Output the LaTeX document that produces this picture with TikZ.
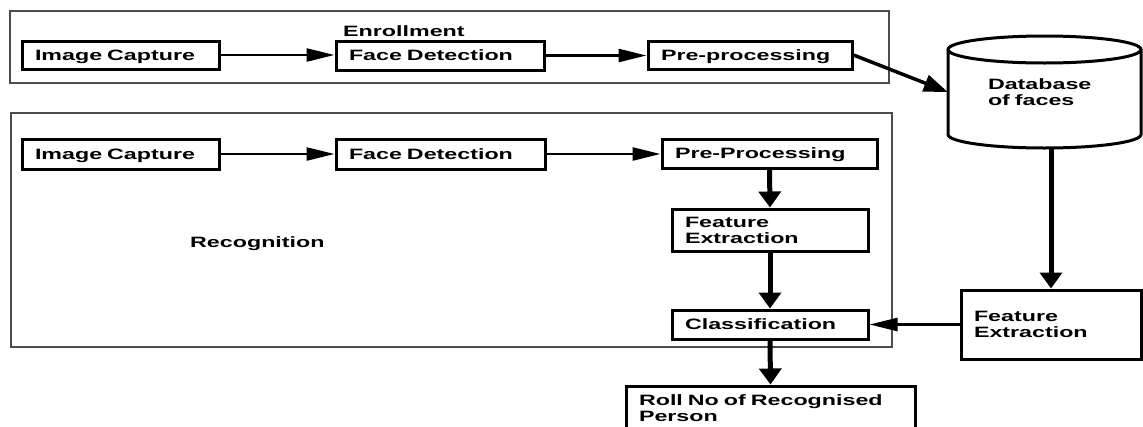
\documentclass[tikz,border=0pt]{standalone}
\usepackage{fontspec}
\newfontfamily\lbl[FakeStretch=1.55]{Liberation Sans}
\usetikzlibrary{arrows.meta,calc}
\begin{document}
\begin{tikzpicture}[x=1pt,y=-1pt,
  every node/.style={font=\lbl\bfseries\fontsize{15}{16}\selectfont},
  box/.style={draw, line width=3pt, inner xsep=13pt, inner ysep=0pt, align=left},
  oneline/.style={text depth=0pt},
  twoline/.style={text depth=16pt},
  frame/.style={draw=black!70, line width=2pt},
  hconn/.style={line width=2.5pt, -{Triangle[length=28pt,width=13pt]}},
  dconn/.style={line width=3.5pt, -{Triangle[length=24pt,width=17pt]}},
  vconn/.style={line width=5pt, -{Triangle[length=16pt,width=22pt]}},
  cyl/.style={draw, line width=3pt}
]
\useasboundingbox[fill=white] (0,0) rectangle (1143,426);

% outer frames
\draw[frame] (9.5,10.5) rectangle (889,83);
\draw[frame] (11,113) rectangle (892,347);

\node[anchor=base west, inner sep=0pt] (enrlabel) at (343,36) {Enrollment};
\node[anchor=base west, inner sep=0pt] (reclabel) at (190,247.5) {Recognition};

% enrollment row
\node[box, oneline, text width=171pt, minimum height=28pt] (ic1) at (120.5,55) {Image Capture};
\node[box, oneline, text width=182pt, minimum height=29pt] (fd1) at (440,55.5) {Face Detection};
\node[box, oneline, text width=178pt, minimum height=28pt] (pp1) at (750,55) {Pre-processing};

% recognition row
\node[box, oneline, text width=171pt, minimum height=30pt] (ic2) at (120.5,154) {Image Capture};
\node[box, oneline, text width=183pt, minimum height=30pt] (fd2) at (440.5,154) {Face Detection};
\node[box, oneline, text width=189pt, minimum height=29pt] (pp2) at (769.5,153.5) {Pre-Processing};
\node[box, twoline, text width=170pt, minimum height=42pt] (fe2) at (770,230) {Feature\\Extraction};
\node[box, oneline, text width=170pt, minimum height=29pt] (cl) at (770,324.5) {Classification};
\node[box, twoline, text width=263pt, minimum height=45pt] (roll) at (770.5,408.5) {Roll No of Recognised\\Person};
\node[box, twoline, text width=154pt, minimum height=69pt] (fe3) at (1051,324.5) {Feature\\Extraction};

% database cylinder
\node[inner sep=0pt, twoline, minimum width=193pt, minimum height=112pt, text width=113pt, align=left] (db) at (1044.5,92) {Database\\of faces};
\draw[cyl] (1044.5,49.5) ellipse [x radius=96.5pt, y radius=13.5pt];
\draw[cyl] (948,49.5) -- (948,134.5)
  arc [start angle=180, end angle=360, x radius=96.5pt, y radius=13.5pt]
  -- (1141,49.5);

% connectors
\draw[hconn] (ic1.east) -- (ic1.east -| fd1.west);
\draw[hconn] (fd1.east) -- (fd1.east -| pp1.west);
\draw[hconn] (ic2.east) -- (ic2.east -| fd2.west);
\draw[hconn] (fd2.east) -- (fd2.east -| pp2.west);
\draw[dconn] (pp1.east) -- (db.west);
\draw[vconn] (pp2.south) -- (fe2.north);
\draw[vconn] (fe2.south) -- (cl.north);
\draw[vconn] (cl.south) -- (roll.north);
\draw[vconn] (db.south -| fe3.north) -- (fe3.north);
\draw[hconn] (fe3.west) -- (cl.east);
\end{tikzpicture}
\end{document}
